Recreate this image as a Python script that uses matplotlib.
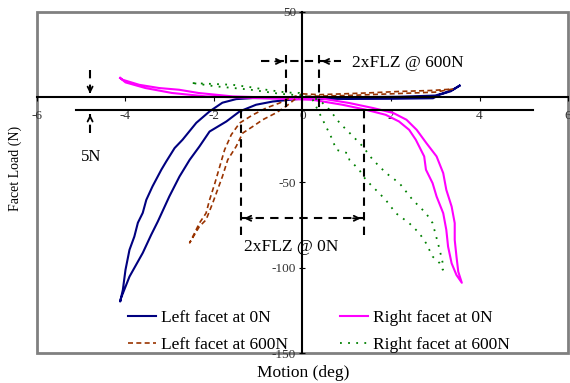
import matplotlib.pyplot as plt
from matplotlib.patches import Rectangle

# Data
left0_x = [3.55, 3.40, 3.20, 3.00, 2.20, 1.00, 0.00, -0.37, -1.13, -1.50, -1.81, -2.10, -2.40,
           -2.71, -2.89, -3.08, -3.19, -3.39, -3.53, -3.61, -3.72, -3.80, -3.91, -4.00, -4.06,
           -4.12, -4.10, -3.91, -3.61, -3.42, -3.27, -3.01, -2.78, -2.55, -2.33, -2.10, -1.72,
           -1.42, -1.05, -0.67, -0.29, 0.00, 1.00, 2.00, 2.95, 3.10, 3.35, 3.55]
left0_y = [6.8, 4.5, 2.5, 1.0, 0.3, 0.0, 0.0, -0.5, -0.5, -1.1, -3.2, -8.3, -15.0,
           -24.9, -29.8, -37.7, -42.5, -52.3, -60.2, -67.8, -73.6, -81.7, -89.5, -101.2, -113.0,
           -119.8, -117.7, -105.2, -91.3, -80.7, -72.9, -58.2, -46.5, -36.7, -28.9, -20.1, -14.2,
           -8.3, -4.4, -2.5, -1.5, -0.8, -1.0, -0.9, -0.6, 1.5, 3.5, 6.8]

right0_x = [-4.12, -4.07, -3.69, -3.24, -2.79, -2.35, -1.58, -0.37, 0.38, 1.06, 1.59, 2.05,
            2.35, 2.58, 2.80, 3.03, 3.18, 3.25, 3.37, 3.44, 3.44, 3.48, 3.52, 3.60, 3.48, 3.37,
            3.29, 3.25, 3.18, 3.03, 2.94, 2.79, 2.75, 2.56, 2.41, 2.18, 1.88, 1.43, 0.90, 0.23,
            -0.37, -2.18, -2.95, -3.55, -4.00, -4.12]
right0_y = [11.3, 10.3, 7.3, 5.4, 4.4, 2.5, 0.5, -0.5, -0.5, -3.4, -6.3, -9.2,
            -13.2, -19.1, -26.9, -34.7, -44.5, -54.3, -64.1, -73.8, -83.7, -93.5, -102.3, -108.8,
            -104.3, -97.4, -87.6, -77.8, -68.0, -58.2, -50.4, -42.5, -34.7, -24.9, -19.1, -14.2,
            -10.3, -7.3, -4.4, -1.5, -1.0, 0.5, 2.5, 5.4, 8.7, 11.3]

left600_x = [0.00, 0.38, 1.44, 2.19, 2.94, 3.39, 3.00, 2.00, 1.00, 0.00, -0.14, -0.37, -0.60,
             -0.90, -1.12, -1.35, -1.50, -1.69, -1.81, -1.92, -2.03, -2.18, -2.33, -2.55, -2.44,
             -2.33, -2.18, -2.10, -1.98, -1.87, -1.76, -1.61, -1.42, -1.12, -0.82, -0.52, -0.29, 0.00]
left600_y = [2.0, 1.5, 2.5, 3.4, 4.0, 4.8, 3.0, 2.0, 1.0, 0.5, -0.5, -5.3, -9.2,
             -13.2, -17.1, -21.0, -28.9, -36.7, -46.5, -54.3, -62.1, -71.9, -75.8, -85.4, -79.7,
             -73.8, -68.0, -60.2, -50.4, -40.6, -30.8, -22.0, -15.1, -10.3, -6.3, -3.4, -0.5, 2.0]

right600_x = [-2.48, -1.58, -1.20, -0.82, -0.37, -0.07, 0.23, 0.38, 0.53, 0.68, 0.76, 1.02, 1.06,
              1.28, 1.43, 1.73, 1.88, 2.11, 2.41, 2.64, 2.79, 2.94, 3.10, 3.17, 3.17, 3.10, 3.02,
              2.94, 2.79, 2.49, 2.19, 1.89, 1.59, 1.36, 1.14, 0.84, 0.61, 0.38, 0.00, -0.50,
              -1.20, -2.00, -2.48]
right600_y = [8.3, 7.3, 6.0, 4.4, 2.8, 2.5, -1.5, -9.2, -17.1, -25.0, -30.8, -32.8, -36.7,
              -42.5, -48.4, -56.2, -60.2, -68.0, -73.8, -79.7, -85.5, -93.4, -97.3, -101.2, -97.3,
              -89.5, -81.6, -73.8, -68.0, -60.2, -50.4, -44.5, -36.7, -28.8, -22.9, -15.1, -7.3,
              -1.5, 1.0, 2.0, 4.5, 6.5, 8.3]

x_ticks = [-6, -4, -2, 0, 2, 4, 6]
y_ticks = [50, -50, -100, -150]

flz600 = 0.38   # half width of FLZ @ 600N
flz0 = 1.38     # half width of FLZ @ 0N
offset_line = -7.5

plt.rcParams["font.family"] = "Liberation Serif"
plt.rcParams["axes.unicode_minus"] = False

fig = plt.figure(figsize=(5.7, 3.83), dpi=100)
ax = fig.add_axes([0.0649, 0.0783, 0.9316, 0.8904])

l0, = ax.plot(left0_x, left0_y, color="#000080", lw=1.5, label="Left facet at 0N")
r0, = ax.plot(right0_x, right0_y, color="#FF00FF", lw=1.5, label="Right facet at 0N")
l6, = ax.plot(left600_x, left600_y, color="#993300", lw=1.2, dashes=(3, 2), label="Left facet at 600N")
r6, = ax.plot(right600_x, right600_y, color="#008000", lw=1.3, dashes=(1, 3.5), label="Right facet at 600N")

ax.set_xlim(-6, 6)
ax.set_ylim(-150, 50)

# axes through zero
ax.spines['left'].set_position(('data', 0))
ax.spines['bottom'].set_position(('data', 0))
ax.spines['left'].set_linewidth(1.5)
ax.spines['bottom'].set_linewidth(1.5)
ax.spines['top'].set_visible(False)
ax.spines['right'].set_visible(False)
ax.add_patch(Rectangle((0, 0), 1, 1, transform=ax.transAxes, fill=False,
                       edgecolor="#808080", lw=2, clip_on=False))

ax.set_xticks(x_ticks)
ax.set_yticks(y_ticks)
ax.set_yticklabels([str(v) for v in y_ticks])
ax.tick_params(axis='x', direction='out', length=3, pad=6, labelsize=9.5, labelcolor="#333333")
ax.tick_params(axis='y', direction='inout', length=5, pad=2, labelsize=9.5, labelcolor="#333333")

# offset line
ax.plot([-5.11, 5.2], [offset_line, offset_line], color="black", lw=1.5)

dash = dict(color="black", lw=1.5, dashes=(4, 3))
head = dict(arrowstyle="->", color="black", lw=1.3, mutation_scale=9)

# 2xFLZ @ 600N
ax.plot([-0.93, 0.88], [21, 21], **dash)
ax.plot([-flz600, -flz600], [25, -8.5], **dash)
ax.plot([flz600, flz600], [25, -8.5], **dash)
ax.annotate("", xy=(-flz600, 21), xytext=(-flz600 - 0.3, 21), arrowprops=head)
ax.annotate("", xy=(flz600, 21), xytext=(flz600 + 0.3, 21), arrowprops=head)
ax.text(1.11, 20, "2xFLZ @ 600N", fontsize=12.5, va="center", ha="left")

# 2xFLZ @ 0N
ax.plot([-flz0, flz0], [-71, -71], **dash)
ax.plot([-flz0, -flz0], [offset_line, -81], **dash)
ax.plot([flz0, flz0], [offset_line, -81], **dash)
ax.annotate("", xy=(-flz0, -71), xytext=(-flz0 + 0.3, -71), arrowprops=head)
ax.annotate("", xy=(flz0, -71), xytext=(flz0 - 0.3, -71), arrowprops=head)
ax.text(-1.32, -88, "2xFLZ @ 0N", fontsize=12.5, va="center", ha="left")

# 5N
ax.plot([-4.8, -4.8], [16, 3], **dash)
ax.plot([-4.8, -4.8], [-21, -10], **dash)
ax.annotate("", xy=(-4.8, 0.5), xytext=(-4.8, 5), arrowprops=head)
ax.annotate("", xy=(-4.8, -8.5), xytext=(-4.8, -13), arrowprops=head)
ax.text(-4.78, -35, "5N", fontsize=12, va="center", ha="center")

fig.text(303 / 570, 1 - 373 / 383, "Motion (deg)", fontsize=12.5, ha="center", va="center")
fig.text(15 / 570, 1 - 168 / 383, "Facet Load (N)", fontsize=10, ha="center", va="center",
         rotation=90)

ax.legend([l0, l6, r0, r6], [h.get_label() for h in (l0, l6, r0, r6)],
          ncol=2, frameon=False, fontsize=12.5, loc="upper left",
          bbox_to_anchor=(128 / 570, 1 - 310 / 383), bbox_transform=fig.transFigure,
          borderpad=0, borderaxespad=0, handlelength=1.6, handletextpad=0.3,
          labelspacing=0.6, columnspacing=3.0)

fig.savefig("out.png", dpi=100)
